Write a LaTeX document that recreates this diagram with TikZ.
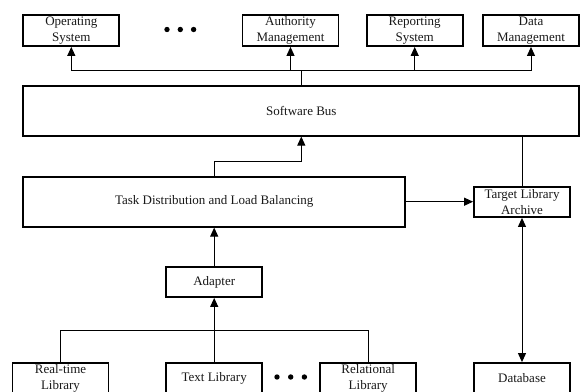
\documentclass[tikz,border=0pt]{standalone}
\usepackage{fontspec}
\setmainfont{Liberation Serif}
\usetikzlibrary{arrows.meta}
\tikzset{
  box/.style={draw=black, line width=1.8pt, fill=white, inner sep=0pt, align=center,
    font=\fontsize{13}{16}\selectfont, text=black!90, minimum width=96pt, minimum height=30pt},
  conn/.style={line width=1pt, draw=black},
  arr/.style={conn, -{Triangle[length=9pt,width=8pt]}},
  arrboth/.style={conn, {Triangle[length=9pt,width=8pt]}-{Triangle[length=9pt,width=8pt]}},
  dotc/.style={fill=black, circle, inner sep=0pt, minimum size=5.4pt}
}
\begin{document}
\begin{tikzpicture}[x=1pt,y=-1pt]
\useasboundingbox (0,0) rectangle (581,391);
% top row
\node[box, minimum height=31pt] (os) at (71.3,30.5) {Operating\\System};
\node[box, minimum height=31pt] (am) at (290.5,30.5) {Authority\\Management};
\node[box, minimum height=31pt] (rs) at (414.7,30.5) {Reporting\\System};
\node[box, minimum height=31pt] (dm) at (531,30.5) {Data\\Management};
\node[dotc] (d1) at (167,29.5) {};
\node[dotc] (d2) at (180.3,29.5) {};
\node[dotc] (d3) at (193.6,29.5) {};
% bus
\node[box, minimum width=556pt, minimum height=49.7pt] (bus) at (301.3,110.8) {Software Bus};
% task
\node[box, minimum width=381.7pt, minimum height=50pt] (task) at (214.2,201.7) {Task Distribution and Load Balancing};
\node[box] (target) at (522,202) {Target Library\\Archive};
% adapter
\node[box] (adapter) at (214.2,282) {Adapter};
% bottom row
\node[box] (rt) at (60.5,378) {Real-time\\Library};
\node[box] (txt) at (214.2,378) {Text Library};
\node[box] (rel) at (368.2,378) {Relational\\Library};
\node[box] (db) at (522,378) {Database};
\node[dotc] (e1) at (277,377) {};
\node[dotc] (e2) at (290.7,377) {};
\node[dotc] (e3) at (304.4,377) {};
% connectors top
\coordinate (bt) at (301.3,70.7);
\draw[conn] (bus.north) -- (bt);
\draw[conn] (os.south |- bt) -- (dm.south |- bt);
\draw[arr] (os.south |- bt) -- (os.south);
\draw[arr] (am.south |- bt) -- (am.south);
\draw[arr] (rs.south |- bt) -- (rs.south);
\draw[arr] (dm.south |- bt) -- (dm.south);
% task to bus
\coordinate (tb) at (214.2,161.7);
\draw[arr] (task.north) -- (tb) -| (bus.south);
% task to target
\draw[arr] (task.east) -- (target.west |- task.east);
\draw[conn] (target.north) -- (target.north |- bus.south);
% adapter
\draw[arr] (adapter.north) -- (task.south);
\draw[arr] (txt.north) -- (adapter.south);
\coordinate (hb) at (214.2,330.7);
\draw[conn] (rt.north) |- (hb) -| (rel.north);
% target database
\draw[arrboth] (target.south) -- (db.north);
\end{tikzpicture}
\end{document}
